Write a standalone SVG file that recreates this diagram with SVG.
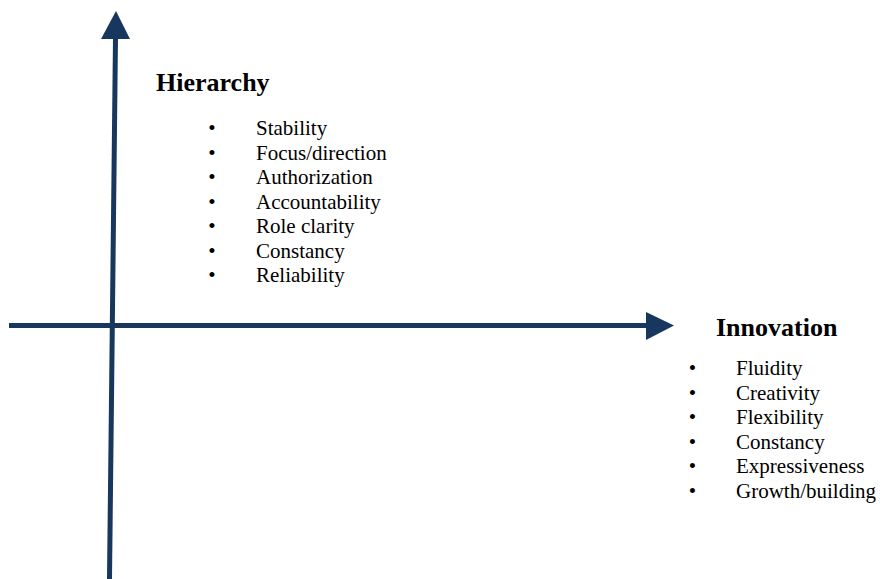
<svg xmlns="http://www.w3.org/2000/svg" width="880" height="579" viewBox="0 0 880 579">
  <style>
    .axis { stroke: #17375E; stroke-width: 5; fill: none; }
    .head { fill: #17375E; }
    .title { font-family: "Liberation Serif", "Times New Roman", serif; font-weight: bold; font-size: 26px; fill: #000; }
    .item { font-family: "Liberation Serif", "Times New Roman", serif; font-size: 21px; fill: #000; }
    .bullet { font-family: "Liberation Serif", "Times New Roman", serif; font-size: 21px; fill: #000; text-anchor: middle; }
  </style>
  <rect width="880" height="579" fill="#fff"/>

  <!-- axes -->
  <g id="connectors">
    <line class="axis" x1="109.5" y1="579" x2="115.5" y2="38"/>
    <polygon class="head" points="101,39 116,11 130,39"/>
    <line class="axis" x1="9" y1="325.5" x2="647" y2="325.5"/>
    <polygon class="head" points="646,312 674,325.5 646,340"/>
  </g>

  <!-- vertical axis label and list -->
  <g id="hierarchy">
    <text class="title" x="156" y="91">Hierarchy</text>
    <g>
      <text class="bullet" x="212" y="135">•</text><text class="item" x="256" y="135">Stability</text>
      <text class="bullet" x="212" y="159.5">•</text><text class="item" x="256" y="159.5">Focus/direction</text>
      <text class="bullet" x="212" y="184">•</text><text class="item" x="256" y="184">Authorization</text>
      <text class="bullet" x="212" y="208.5">•</text><text class="item" x="256" y="208.5">Accountability</text>
      <text class="bullet" x="212" y="233">•</text><text class="item" x="256" y="233">Role clarity</text>
      <text class="bullet" x="212" y="257.5">•</text><text class="item" x="256" y="257.5">Constancy</text>
      <text class="bullet" x="212" y="282">•</text><text class="item" x="256" y="282">Reliability</text>
    </g>
  </g>

  <!-- horizontal axis label and list -->
  <g id="innovation">
    <text class="title" x="716" y="336">Innovation</text>
    <g>
      <text class="bullet" x="692.5" y="375">•</text><text class="item" x="736" y="375">Fluidity</text>
      <text class="bullet" x="692.5" y="399.5">•</text><text class="item" x="736" y="399.5">Creativity</text>
      <text class="bullet" x="692.5" y="424">•</text><text class="item" x="736" y="424">Flexibility</text>
      <text class="bullet" x="692.5" y="448.5">•</text><text class="item" x="736" y="448.5">Constancy</text>
      <text class="bullet" x="692.5" y="473">•</text><text class="item" x="736" y="473">Expressiveness</text>
      <text class="bullet" x="692.5" y="497.5">•</text><text class="item" x="736" y="497.5">Growth/building</text>
    </g>
  </g>
</svg>
